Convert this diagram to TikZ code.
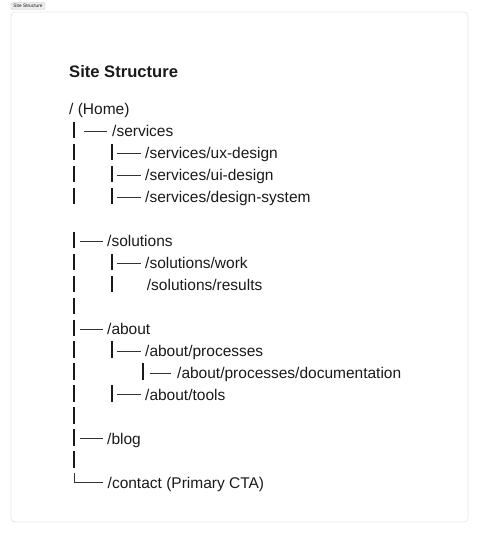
\documentclass[tikz,border=0pt]{standalone}
\usepackage{fontspec}
\setmainfont{Liberation Sans}
\definecolor{ink}{HTML}{1A1A1A}
\definecolor{linegray}{HTML}{333333}
\definecolor{framegray}{HTML}{E6E6E6}
\definecolor{tabfill}{HTML}{EEEEEE}
\definecolor{tabdraw}{HTML}{C8C8C8}
\begin{document}
\begin{tikzpicture}[x=1pt,y=-1pt,
  lbl/.style={anchor=base west, inner sep=0pt, text=ink, font=\fontsize{15.5}{18}\selectfont},
  ttl/.style={anchor=base west, inner sep=0pt, text=ink, font=\fontsize{16.6}{20}\selectfont\bfseries},
  tabbox/.style={draw=tabdraw, fill=tabfill, line width=0.4pt, rounded corners=1.5pt, inner sep=0pt,
    minimum width=34pt, minimum height=7pt, font=\fontsize{4.8}{5}\selectfont, text=ink},
  vbar/.style={draw=ink, line width=1.2pt},
  hline/.style={draw=linegray, line width=0.8pt},
  framebox/.style={draw=framegray, line width=0.8pt, rounded corners=4pt}
]
\useasboundingbox (0,0) rectangle (479,534);
% frame and tab
\draw[framebox] (11,12) rectangle (468,522);
\node[tabbox] (tab) at (28,6) {Site Structure};
% title
\node[ttl] (title) at (69,78) {Site Structure};
% row spacing
\def\rs{21.95}
% labels
\node[lbl] (home)    at (69, 115)           {/ (Home)};
\node[lbl] (svc)     at (112, 115+1*\rs)    {/services};
\node[lbl] (ux)      at (145, 115+2*\rs)    {/services/ux-design};
\node[lbl] (ui)      at (145, 115+3*\rs)    {/services/ui-design};
\node[lbl] (ds)      at (145, 115+4*\rs)    {/services/design-system};
\node[lbl] (sol)     at (107, 115+6*\rs)    {/solutions};
\node[lbl] (work)    at (145, 115+7*\rs)    {/solutions/work};
\node[lbl] (res)     at (146.7, 115+8*\rs)  {/solutions/results};
\node[lbl] (about)   at (107, 115+10*\rs)   {/about};
\node[lbl] (proc)    at (145, 115+11*\rs)   {/about/processes};
\node[lbl] (doc)     at (177, 115+12*\rs)   {/about/processes/documentation};
\node[lbl] (tools)   at (145, 115+13*\rs)   {/about/tools};
\node[lbl] (blog)    at (107, 115+15*\rs)   {/blog};
\node[lbl] (contact) at (107.5, 115+17*\rs) {/contact (Primary CTA)};
% first-level vertical bars
\foreach \i in {1,2,3,4,6,7,8,9,10,11,12,13,14,15,16}{
  \draw[vbar] (74, 115+\i*\rs-15) -- (74, 115+\i*\rs+1.5);
}
% second-level vertical bars
\foreach \i in {2,3,4,7,8,11,13}{
  \draw[vbar] (112, 115+\i*\rs-15) -- (112, 115+\i*\rs+1.5);
}
% third-level bar
\draw[vbar] (143, 115+12*\rs-15) -- (143, 115+12*\rs+1.5);
% horizontal branch lines
\draw[hline] (84, 115+1*\rs-5.5) -- (107, 115+1*\rs-5.5);
\foreach \i in {2,3,4,7,11,13}{
  \draw[hline] (117, 115+\i*\rs-5.5) -- (141, 115+\i*\rs-5.5);
}
\foreach \i in {6,10,15}{
  \draw[hline] (80, 115+\i*\rs-5.5) -- (102.5, 115+\i*\rs-5.5);
}
\draw[hline] (149.5, 115+12*\rs-5.5) -- (171, 115+12*\rs-5.5);
% corner to contact
\draw[hline, line width=1pt] (74, 115+17*\rs-15) -- (74, 115+17*\rs-5.5) -- (102.5, 115+17*\rs-5.5);
\end{tikzpicture}
\end{document}
